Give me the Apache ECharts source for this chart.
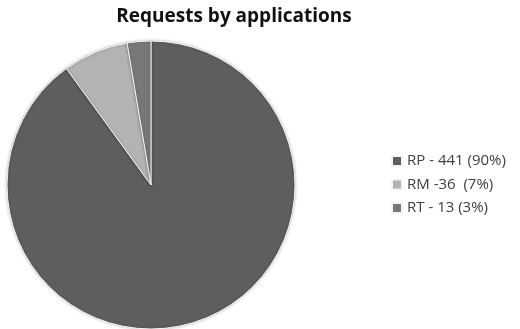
<!DOCTYPE html>
<html><head><meta charset="utf-8">
<script src="https://cdn.jsdelivr.net/npm/echarts@6/dist/echarts.min.js"></script>
<style>html,body{margin:0;padding:0;background:#fff}#c{width:520px;height:329px}</style>
</head><body><div id="c"></div>
<script>
const categories = ['RP', 'RM', 'RT'];
const values = [441, 36, 13];
const legendLabels = ['RP - 441 (90%)', 'RM -36  (7%)', 'RT - 13 (3%)'];
const colors = ['#5e5e5e', '#b3b3b3', '#787878'];

const chart = echarts.init(document.getElementById('c'), null, {renderer: 'canvas'});
chart.setOption({
  animation: false,
  backgroundColor: '#fff',
  title: {
    text: 'Requests by applications',
    left: 229, top: 2, textAlign: 'center',
    textStyle: {fontFamily: 'Open Sans', fontWeight: 'bold', fontSize: 19, color: '#111'}
  },
  legend: {
    orient: 'vertical', left: 386, top: 148,
    itemWidth: 10, itemHeight: 10, itemGap: 7.5,
    icon: 'rect',
    data: categories,
    formatter: n => legendLabels[categories.indexOf(n)],
    textStyle: {fontFamily: 'Open Sans', fontSize: 15, lineHeight: 16, color: '#404040'}
  },
  series: [{
    type: 'pie',
    center: [151, 185], radius: 144,
    startAngle: 90, clockwise: true,
    label: {show: false}, labelLine: {show: false},
    itemStyle: {borderColor: '#f4f4f4', borderWidth: 1, shadowBlur: 3, shadowColor: 'rgba(0,0,0,0.25)'},
    emphasis: {disabled: true},
    data: categories.map((c, i) => ({name: c, value: values[i], itemStyle: {color: colors[i]}}))
  }]
});
</script></body></html>
